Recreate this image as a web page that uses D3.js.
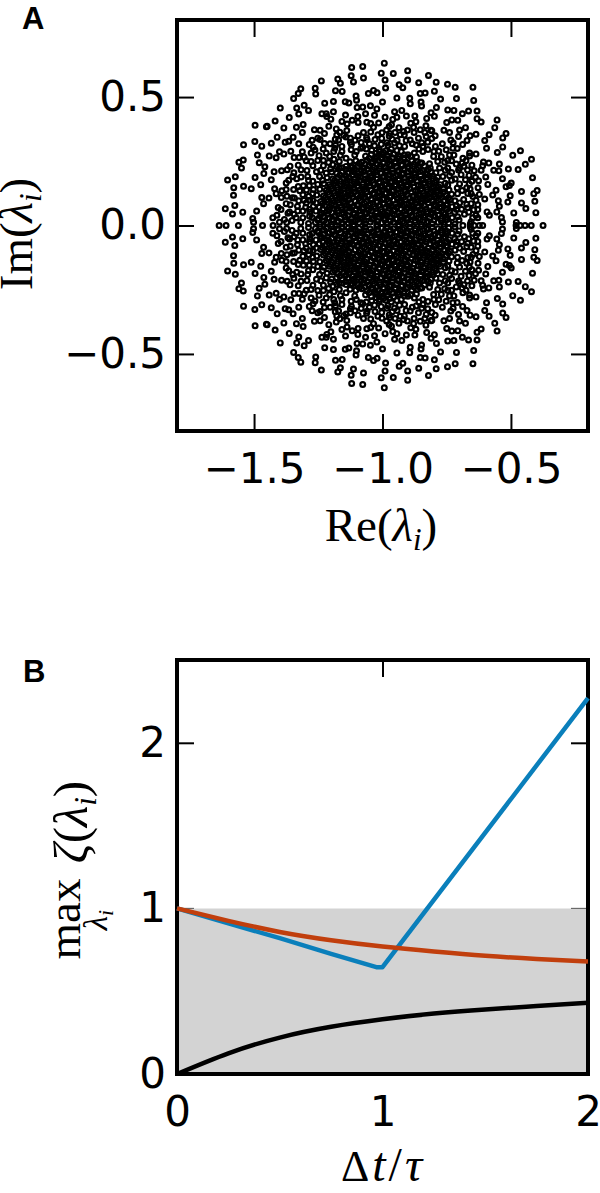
<!DOCTYPE html>
<html>
<head>
<meta charset="utf-8">
<script src="https://cdn.jsdelivr.net/npm/d3@7"></script>
<style>
body { margin: 0; background: #fff; }
text { fill: #000; }
.tick text { font-family: "DejaVu Sans"; font-size: 42px; }
.math { font-family: "Liberation Serif"; }
.panel { font-family: "Liberation Sans"; font-weight: bold; font-size: 31px; }
</style>
</head>
<body>
<script>
// eigenvalues come in conjugate pairs, so only the upper half is listed
const outerEig = [
[-1.120,.615],[-1.077,.619],[-1.122,.583],[-1.074,.574],[-1.113,.559],[-1.174,.570],[-1.164,.554],[-1.238,.563],[-1.262,.534],[-1.260,.512],
[-1.318,.532],[-1.328,.514],[-1.346,.494],[-1.183,.525],[-1.157,.522],[-1.103,.504],[-1.101,.488],[-1.055,.514],[-1.035,.526],[-1.021,.517],
[-1.225,.476],[-1.191,.483],[-1.145,.482],[-1.131,.477],[-1.099,.459],[-1.077,.461],[-1.047,.466],[-1.022,.454],[-1.398,.457],[-1.334,.457],
[-1.305,.468],[-1.288,.448],[-1.326,.434],[-1.236,.435],[-1.219,.435],[-1.217,.424],[-1.201,.414],[-1.191,.443],[-1.144,.430],[-1.096,.424],
[-1.066,.435],[-1.031,.429],[-1.363,.420],[-1.418,.407],[-1.496,.390],[-1.452,.384],[-1.449,.386],[-1.384,.380],[-1.335,.382],[-1.309,.393],
[-1.312,.362],[-1.209,.386],[-1.180,.376],[-1.166,.363],[-1.118,.410],[-1.095,.401],[-1.061,.402],[-1.046,.397],[-1.035,.382],[-1.265,.373],
[-1.243,.371],[-1.226,.358],[-1.139,.370],[-1.142,.345],[-1.125,.340],[-1.095,.349],[-1.074,.362],[-1.046,.364],[-1.018,.353],[-1.410,.344],
[-1.433,.320],[-1.497,.327],[-1.470,.309],[-1.541,.314],[-1.379,.324],[-1.365,.328],[-1.348,.344],[-1.326,.318],[-1.274,.332],[-1.252,.340],
[-1.226,.319],[-1.184,.336],[-1.171,.333],[-1.125,.324],[-1.083,.323],[-1.051,.318],[-1.031,.310],[-1.270,.305],[-1.231,.298],[-1.186,.301],
[-1.158,.308],[-1.122,.295],[-1.084,.301],[-1.401,.287],[-1.384,.278],[-1.357,.289],[-1.312,.287],[-1.487,.274],[-1.441,.271],[-1.414,.264],
[-1.344,.265],[-1.278,.282],[-1.219,.282],[-1.190,.288],[-1.164,.273],[-1.305,.266],[-1.297,.252],[-1.278,.249],[-1.252,.253],[-1.230,.253],
[-1.206,.269],[-1.168,.249],[-1.142,.262],[-1.559,.246],[-1.542,.255],[-1.549,.224],[-1.480,.244],[-1.458,.229],[-1.422,.209],[-1.393,.213],
[-1.371,.217],[-1.360,.231],[-1.317,.217],[-1.271,.233],[-1.257,.209],[-1.230,.233],[-1.193,.236],[-1.168,.224],[-1.142,.230],[-1.603,.177],
[-1.573,.190],[-1.496,.187],[-1.462,.202],[-1.433,.178],[-1.541,.153],[-1.511,.143],[-1.579,.147],[-1.474,.159],[-1.420,.143],[-1.365,.176],
[-1.349,.191],[-1.334,.182],[-1.317,.189],[-1.291,.191],[-1.308,.155],[-1.375,.140],[-1.346,.140],[-1.271,.172],[-1.245,.191],[-1.219,.204],
[-1.269,.140],[-1.580,.118],[-1.470,.109],[-1.442,.107],[-1.463,.085],[-1.414,.124],[-1.394,.109],[-1.372,.114],[-1.343,.107],[-1.310,.120],
[-1.287,.114],[-1.575,.078],[-1.612,.065],[-1.584,.045],[-1.544,.052],[-1.490,.056],[-1.406,.070],[-1.375,.085],[-1.359,.081],[-1.326,.096],
[-1.297,.088],[-1.505,.027],[-1.502,.013],[-1.411,.040],[-1.382,.023],[-1.362,.053],[-1.427,.030],[-1.636,0],[-1.609,0],[-1.561,0],
[-1.467,0],[-1.426,0],[-1.401,.013],[-1.330,.056],[-1.310,.056],[-1.284,.062],[-1.258,.088],[-1.336,.030],[-1.310,.030],[-1.284,.036],
[-.993,.632],[-1.005,.593],[-.958,.592],[-.902,.602],[-.990,.566],[-.902,.566],[-.821,.584],[-.935,.548],[-.921,.536],[-.988,.535],
[-.859,.556],[-.791,.558],[-.747,.550],[-.717,.538],[-.648,.538],[-.853,.514],[-.834,.516],[-.798,.523],[-.944,.496],[-.894,.495],
[-.892,.474],[-.850,.481],[-.848,.465],[-.774,.492],[-.712,.494],[-.645,.487],[-1.000,.481],[-.790,.459],[-.953,.443],[-.925,.448],
[-.746,.450],[-.722,.448],[-.689,.435],[-.665,.446],[-.632,.446],[-.811,.439],[-.798,.425],[-.828,.417],[-.907,.426],[-.874,.426],
[-.990,.421],[-.944,.421],[-.960,.413],[-.870,.404],[-.890,.398],[-.879,.382],[-.831,.388],[-.730,.411],[-.707,.410],[-.750,.401],
[-.632,.416],[-.616,.403],[-.554,.411],[-.974,.385],[-.984,.372],[-.936,.381],[-.903,.372],[-.918,.366],[-.931,.353],[-.877,.362],
[-.811,.371],[-.808,.369],[-.761,.371],[-.739,.362],[-.700,.372],[-.677,.381],[-.563,.381],[-.704,.346],[-.659,.349],[-.636,.355],
[-.671,.331],[-.585,.353],[-.519,.358],[-.532,.341],[-.602,.331],[-.795,.349],[-.830,.346],[-.860,.340],[-.892,.333],[-.962,.336],
[-.734,.333],[-.808,.339],[-.824,.324],[-.843,.308],[-.767,.318],[-.794,.308],[-.869,.313],[-.914,.308],[-.934,.310],[-.953,.321],
[-.726,.301],[-.709,.300],[-.595,.301],[-.532,.306],[-.553,.284],[-.463,.291],[-.493,.273],[-.420,.258],[-.444,.238],[-.739,.274],
[-.722,.274],[-.661,.282],[-.661,.271],[-.636,.278],[-.800,.288],[-.843,.288],[-.876,.282],[-.901,.275],[-.927,.288],[-.687,.262],
[-.746,.253],[-.785,.249],[-.713,.239],[-.690,.243],[-.607,.247],[-.586,.243],[-.545,.239],[-.610,.233],[-.616,.215],[-.643,.213],
[-.669,.216],[-.567,.215],[-.547,.213],[-.510,.220],[-.472,.218],[-.700,.224],[-.746,.224],[-.778,.224],[-.817,.240],[-.847,.243],
[-.416,.186],[-.598,.189],[-.533,.182],[-.499,.165],[-.506,.156],[-.519,.151],[-.590,.160],[-.652,.172],[-.626,.174],[-.662,.162],
[-.659,.142],[-.746,.158],[-.765,.191],[-.739,.194],[-.717,.181],[-.694,.198],[-.700,.162],[-.709,.146],[-.558,.137],[-.623,.121],
[-.602,.103],[-.571,.119],[-.668,.125],[-.655,.124],[-.459,.132],[-.398,.136],[-.411,.124],[-.503,.116],[-.407,.094],[-.549,.096],
[-.512,.091],[-.459,.088],[-.442,.066],[-.545,.075],[-.555,.053],[-.636,.098],[-.629,.081],[-.684,.101],[-.700,.088],[-.489,.049],
[-.403,.050],[-.593,.053],[-.584,.040],[-.629,.062],[-.668,.069],[-.664,.052],[-.636,.040],[-.649,.030],[-.629,.030],[-.687,0],
[-.658,.006],[-.643,0],[-.623,0],[-.610,0],[-.537,.031],[-.533,.014],[-.479,.012],[-.464,0],[-.445,0],[-.421,0],
[-.375,0],[-.480,0]
];

// the ring around the solid middle, too crowded to read one by one, so estimated
const midEig = [
[-1.318,.012],[-1.344,.044],[-1.299,.071],[-1.331,.075],[-1.283,.098],[-1.352,.019],[-1.306,.098],[-1.272,.124],[-1.296,.138],[-1.252,.160],
[-1.285,.155],[-1.322,.135],[-1.240,.215],[-1.210,.245],[-1.189,.258],[-1.183,.312],[-1.202,.221],[-1.158,.288],[-1.121,.315],[-1.102,.288],
[-1.151,.351],[-1.107,.332],[-1.178,.352],[-1.204,.318],[-1.247,.272],[-1.263,.294],[-1.294,.214],[-1.233,.176],[-1.328,.152],[-1.288,.175],
[-1.062,.342],[-1.029,.335],[-1.002,.361],[-.972,.358],[-.943,.331],[-.908,.331],[-.884,.318],[-.858,.298],[-.823,.296],[-.801,.269],
[-.771,.268],[-.758,.246],[-.731,.252],[-1.077,.305],[-1.012,.288],[-.979,.312],[-.951,.362],[-1.003,.339],[-.915,.352],[-.847,.322],
[-.781,.289],[-.752,.295],[-.704,.216],[-.683,.231],[-.731,.206],[-.756,.215],[-.663,.195],[-.677,.178],[-.708,.124],[-.690,.136],
[-.731,.176],[-.672,.147],[-.648,.113],[-.655,.085],[-.672,.083],[-.702,.021],[-.681,.044],[-.711,.062],[-.655,.015],[-.692,.063],
[-.645,.061],[-.628,.147],[-.638,.188],[-.652,.235],[-.675,.252],[-.725,.322],[-.688,.315],[-.835,.362],[-.853,.373],[-.965,.392],
[-1.015,.399],[-1.138,.395],[-1.158,.405],[-1.243,.335],[-1.285,.315],[-1.325,.265],[-1.328,.235],[-1.345,.205],[-1.375,.165],[-1.392,.135],
[-1.368,.048],[-1.395,.062],[-1.373,.012],[-1.351,.108]
];

// the solid middle of the cloud, individual points are only estimates here
const coreEig = [
[-1.288,.008],[-1.261,.012],[-1.243,.005],[-1.219,.011],[-1.198,.004],[-1.176,.013],[-1.158,.006],[-1.133,.010],[-1.112,.003],[-1.091,.012],[-1.068,.007],[-1.047,.014],[-1.022,.004],[-1.004,.011],[-.981,.006],[-.958,.013],[-.937,.003],[-.916,.010],[-.893,.006],[-.872,.012],[-.849,.004],[-.828,.011],[-.806,.007],[-.784,.013],[-.761,.005],[-.742,.010],[-.718,.006],
[-1.274,.031],[-1.250,.027],[-1.231,.034],[-1.207,.029],[-1.188,.035],[-1.164,.028],[-1.145,.033],[-1.122,.026],[-1.101,.034],[-1.079,.029],[-1.058,.035],[-1.035,.027],[-1.014,.032],[-.993,.028],[-.969,.035],[-.948,.026],[-.926,.033],[-.905,.029],[-.883,.034],[-.861,.027],[-.839,.032],[-.817,.029],[-.796,.035],[-.773,.027],[-.751,.033],[-.729,.030],[-.707,.034],
[-1.283,.052],[-1.259,.056],[-1.238,.049],[-1.216,.055],[-1.197,.050],[-1.173,.057],[-1.152,.051],[-1.130,.055],[-1.109,.048],[-1.089,.056],[-1.066,.051],[-1.044,.057],[-1.024,.049],[-1.002,.054],[-.979,.050],[-.957,.057],[-.936,.048],[-.914,.055],[-.894,.051],[-.870,.056],[-.850,.049],[-.827,.054],[-.806,.051],[-.785,.057],[-.762,.050],[-.741,.055],[-.719,.052],
[-1.269,.075],[-1.246,.071],[-1.224,.078],[-1.205,.072],[-1.182,.077],[-1.160,.071],[-1.140,.079],[-1.118,.073],[-1.097,.077],[-1.075,.070],[-1.053,.078],[-1.033,.073],[-1.011,.079],[-.988,.071],[-.967,.076],[-.945,.072],[-.923,.079],[-.902,.070],[-.881,.077],[-.859,.073],[-.837,.078],[-.816,.071],[-.794,.076],[-.771,.072],[-.752,.079],[-.729,.073],[-.712,.077],
[-1.271,.097],[-1.240,.093],[-1.217,.100],[-1.194,.095],[-1.173,.099],[-1.150,.092],[-1.129,.101],[-1.107,.095],[-1.086,.098],[-1.063,.092],[-1.042,.100],[-1.021,.094],[-.999,.101],[-.977,.093],[-.956,.098],[-.934,.094],[-.912,.100],[-.891,.092],[-.869,.099],[-.848,.095],[-.826,.100],[-.804,.093],[-.783,.098],[-.761,.094],[-.737,.100],[-.718,.096],
[-1.256,.119],[-1.230,.115],[-1.208,.122],[-1.185,.117],[-1.164,.121],[-1.141,.114],[-1.120,.122],[-1.098,.116],[-1.077,.120],[-1.055,.114],[-1.033,.122],[-1.012,.116],[-.990,.123],[-.968,.115],[-.946,.120],[-.925,.116],[-.903,.122],[-.882,.114],[-.860,.121],[-.838,.117],[-.817,.122],[-.795,.115],[-.773,.120],[-.752,.116],[-.731,.122],
[-1.244,.141],[-1.219,.137],[-1.197,.144],[-1.175,.139],[-1.153,.143],[-1.132,.136],[-1.110,.144],[-1.088,.138],[-1.067,.142],[-1.044,.136],[-1.023,.144],[-1.002,.138],[-.980,.145],[-.958,.137],[-.936,.142],[-.915,.138],[-.893,.144],[-.872,.136],[-.850,.143],[-.828,.139],[-.807,.144],[-.785,.137],[-.763,.142],[-.741,.138],
[-1.228,.163],[-1.207,.159],[-1.186,.166],[-1.164,.161],[-1.142,.165],[-1.121,.158],[-1.099,.166],[-1.077,.160],[-1.056,.164],[-1.034,.158],[-1.012,.166],[-.991,.160],[-.969,.167],[-.948,.159],[-.926,.164],[-.904,.160],[-.882,.166],[-.861,.158],[-.839,.165],[-.818,.161],[-.796,.166],[-.775,.159],[-.756,.164],
[-1.216,.186],[-1.194,.181],[-1.173,.188],[-1.151,.183],[-1.130,.187],[-1.108,.180],[-1.087,.188],[-1.065,.182],[-1.043,.186],[-1.022,.180],[-1.000,.188],[-.978,.182],[-.957,.189],[-.935,.181],[-.914,.186],[-.892,.182],[-.870,.188],[-.849,.180],[-.827,.187],[-.806,.183],[-.785,.188],
[-1.198,.208],[-1.178,.203],[-1.157,.210],[-1.135,.205],[-1.114,.209],[-1.092,.202],[-1.071,.210],[-1.049,.204],[-1.027,.208],[-1.006,.202],[-.984,.210],[-.962,.204],[-.941,.211],[-.919,.203],[-.898,.208],[-.876,.204],[-.854,.210],[-.833,.202],[-.811,.209],[-.792,.205],
[-1.178,.229],[-1.158,.225],[-1.121,.232],[-1.118,.226],[-1.097,.231],[-1.075,.224],[-1.054,.232],[-1.032,.226],[-1.010,.230],[-.989,.224],[-.967,.232],[-.945,.226],[-.924,.233],[-.902,.225],[-.881,.230],[-.859,.226],[-.837,.232],[-.814,.224],
[-1.126,.248],[-1.104,.252],[-1.081,.246],[-1.060,.254],[-1.038,.248],[-1.016,.253],[-.995,.246],[-.973,.254],[-.951,.248],[-.930,.253],[-.908,.246],[-.886,.252],[-.864,.248],
[-1.108,.274],[-1.066,.270],[-1.044,.276],[-1.022,.269],[-1.001,.275],[-.979,.271],[-.957,.277],[-.936,.269],[-.914,.274],[-.891,.270],[-.868,.267],
[-1.063,.298],[-1.042,.293],[-1.012,.296],[-.987,.291],[-.966,.298],[-.944,.292],[-1.005,.316],[-.983,.322],[-1.060,.334],[-.974,.348]
];

// second pass over the middle, it is nearly black there in the reference
const coreFill = [
[-1.252,.021],[-1.228,.018],[-1.195,.024],[-1.171,.017],[-1.143,.022],[-1.121,.015],[-1.097,.023],[-1.072,.019],[-1.041,.024],[-1.018,.016],[-.991,.021],[-.969,.018],[-.944,.025],[-.921,.017],[-.902,.022],[-.874,.019],[-.853,.024],[-.822,.016],[-.799,.021],[-.771,.018],[-.748,.023],
[-1.241,.041],[-1.212,.044],[-1.183,.039],[-1.158,.045],[-1.134,.038],[-1.112,.043],[-1.086,.040],[-1.063,.046],[-1.031,.038],[-1.009,.043],[-.983,.040],[-.961,.046],[-.931,.039],[-.909,.044],[-.887,.040],[-.858,.045],[-.834,.039],[-.811,.043],[-.783,.040],[-.756,.045],
[-1.232,.064],[-1.207,.060],[-1.178,.066],[-1.156,.062],[-1.127,.067],[-1.103,.061],[-1.079,.064],[-1.054,.060],[-1.028,.066],[-1.006,.062],[-.975,.067],[-.952,.061],[-.928,.065],[-.906,.062],[-.877,.066],[-.853,.061],[-.829,.064],[-.802,.062],[-.777,.067],[-.749,.063],
[-1.233,.086],[-1.199,.083],[-1.172,.088],[-1.147,.084],[-1.123,.089],[-1.096,.083],[-1.071,.087],[-1.048,.085],[-1.022,.089],[-.997,.083],[-.972,.087],[-.949,.084],[-.925,.089],[-.898,.083],[-.873,.087],[-.849,.085],[-.822,.089],[-.799,.083],[-.773,.086],[-.748,.084],
[-1.223,.108],[-1.196,.105],[-1.168,.110],[-1.145,.104],[-1.117,.109],[-1.092,.106],[-1.069,.111],[-1.044,.104],[-1.017,.108],[-.994,.105],[-.971,.110],[-.942,.104],[-.919,.109],[-.894,.106],[-.867,.110],[-.843,.105],[-.819,.109],[-.791,.106],[-.768,.110],[-.744,.107],
[-1.212,.130],[-1.187,.127],[-1.162,.132],[-1.135,.126],[-1.111,.131],[-1.084,.128],[-1.062,.133],[-1.037,.126],[-1.011,.130],[-.986,.127],[-.962,.132],[-.939,.126],[-.911,.131],[-.888,.128],[-.863,.132],[-.839,.127],[-.812,.131],[-.789,.128],[-.764,.130],
[-1.201,.152],[-1.175,.149],[-1.148,.154],[-1.126,.148],[-1.098,.153],[-1.076,.150],[-1.049,.155],[-1.027,.148],[-1.001,.152],[-.975,.149],[-.952,.154],[-.927,.148],[-.903,.153],[-.878,.150],[-.851,.154],[-.828,.149],[-.802,.153],[-.781,.150],
[-1.187,.174],[-1.162,.171],[-1.137,.176],[-1.112,.170],[-1.089,.175],[-1.061,.172],[-1.038,.177],[-1.013,.170],[-.987,.174],[-.964,.171],[-.938,.176],[-.916,.170],[-.889,.175],[-.864,.172],[-.842,.176],[-.817,.171],[-.791,.175],
[-1.166,.197],[-1.142,.193],[-1.118,.198],[-1.095,.192],[-1.068,.197],[-1.044,.194],[-1.021,.199],[-.995,.192],[-.971,.196],[-.948,.193],[-.923,.198],[-.899,.192],[-.874,.197],[-.852,.194],[-.826,.198],[-.803,.193],
[-1.142,.218],[-1.109,.220],[-1.083,.215],[-1.059,.219],[-1.037,.216],[-1.011,.221],[-.986,.214],[-.962,.219],[-.938,.215],[-.914,.220],[-.889,.216],[-.866,.219],[-.845,.214],[-.822,.218],
[-1.091,.241],[-1.068,.238],[-1.044,.243],[-1.021,.237],[-.997,.242],[-.972,.238],[-.949,.243],[-.926,.237],[-.902,.241],[-.877,.239],[-.853,.243],
[-1.052,.262],[-1.028,.260],[-1.006,.263],[-.983,.259],[-.961,.264],[-.938,.261],[-.917,.263],
[-1.024,.281],[-.995,.283],[-.972,.284]
];

const reTicks = [-1.5, -1.0, -0.5];
const imTicks = [-0.5, 0, 0.5];

// panel B, read at these dt/tau positions
const dtCurve = [0, 0.25, 0.5, 0.75, 1, 1.25, 1.5, 1.75, 2];
const blackZeta = [0, 0.125, 0.22, 0.285, 0.33, 0.365, 0.39, 0.41, 0.43];
const orangeZeta = [1, 0.925, 0.858, 0.808, 0.77, 0.74, 0.714, 0.695, 0.68];
const dtBlue = [0, 0.25, 0.5, 0.75, 0.97, 1.0, 2];
const blueZeta = [1, 0.91, 0.82, 0.725, 0.645, 0.645, 2.27];
const shadeDt = [0, 2];
const shadeTop = [1, 1];
const bTicksX = [0, 1, 2];
const bTicksY = [0, 1, 2];

const width = 600, height = 1193;
const left = 177, right = 588;

const svg = d3.select('body').append('svg')
    .attr('width', width)
    .attr('height', height)
    .style('display', 'block');

const minus = d => d3.format('.1f')(d).replace('-', '\u2212');

function ticks(g, axis) {
    g.call(axis);
    g.select('.domain').remove();
    g.selectAll('.tick line').attr('stroke', '#000').attr('stroke-width', 2);
}

function frame(top, bottom) {
    svg.append('rect')
        .attr('x', left).attr('y', top)
        .attr('width', right - left).attr('height', bottom - top)
        .attr('fill', 'none')
        .attr('stroke', '#000')
        .attr('stroke-width', 4);
}

// ---- panel A
const x1 = d3.scaleLinear().domain([-1.8, -0.2]).range([left, right]);
const y1 = d3.scaleLinear().domain([-0.8, 0.8]).range([431, 20]);

svg.append('g').attr('transform', 'translate(0,431)')
    .call(ticks, d3.axisBottom(x1).tickValues(reTicks).tickSize(-17).tickPadding(22).tickFormat(minus));
svg.append('g').attr('transform', 'translate(0,20)')
    .call(ticks, d3.axisTop(x1).tickValues(reTicks).tickSize(-17).tickFormat(''));
svg.append('g').attr('transform', `translate(${left},0)`)
    .call(ticks, d3.axisLeft(y1).tickValues(imTicks).tickSize(-17).tickPadding(11).tickFormat(minus));
svg.append('g').attr('transform', `translate(${right},0)`)
    .call(ticks, d3.axisRight(y1).tickValues(imTicks).tickSize(-17).tickFormat(''));

const upper = outerEig.concat(midEig, coreEig, coreFill);
const allEig = upper.concat(upper.filter(d => d[1] !== 0).map(d => [d[0], -d[1]]));

svg.append('g').selectAll('circle')
    .data(allEig)
    .join('circle')
    .attr('cx', d => x1(d[0]))
    .attr('cy', d => y1(d[1]))
    .attr('r', 2.4)
    .attr('fill', 'none')
    .attr('stroke', '#000')
    .attr('stroke-width', 2.2);

frame(20, 431);

// ---- panel B
const x2 = d3.scaleLinear().domain([0, 2]).range([left, right]);
const y2 = d3.scaleLinear().domain([0, 2.5]).range([1074, 660]);

svg.append('g').attr('transform', 'translate(0,1074)')
    .call(ticks, d3.axisBottom(x2).tickValues(bTicksX).tickSize(-17).tickPadding(22).tickFormat(d3.format('d')));
svg.append('g').attr('transform', 'translate(0,660)')
    .call(ticks, d3.axisTop(x2).tickValues(bTicksX).tickSize(-17).tickFormat(''));
svg.append('g').attr('transform', `translate(${left},0)`)
    .call(ticks, d3.axisLeft(y2).tickValues(bTicksY).tickSize(-17).tickPadding(11).tickFormat(d3.format('d')));
svg.append('g').attr('transform', `translate(${right},0)`)
    .call(ticks, d3.axisRight(y2).tickValues(bTicksY).tickSize(-17).tickFormat(''));

svg.append('clipPath').attr('id', 'plotB').append('rect')
    .attr('x', left - 2).attr('y', 658).attr('width', right - left + 4).attr('height', 418);

svg.append('path')
    .datum(shadeDt)
    .attr('d', d3.area().x(d => x2(d)).y0(y2(0)).y1((d, i) => y2(shadeTop[i])))
    .attr('fill', '#d3d3d3');

frame(660, 1074);

const smooth = d3.line().x(d => x2(d[0])).y(d => y2(d[1])).curve(d3.curveNatural);
const straight = d3.line().x(d => x2(d[0])).y(d => y2(d[1]));

const plotB = svg.append('g').attr('clip-path', 'url(#plotB)');
const series = [
    { pts: d3.zip(dtCurve, blackZeta), gen: smooth, col: '#000' },
    { pts: d3.zip(dtBlue, blueZeta), gen: straight, col: '#0a7fbb' },
    { pts: d3.zip(dtCurve, orangeZeta), gen: smooth, col: '#c13f0d' }
];
series.forEach(s => {
    plotB.append('path')
        .attr('d', s.gen(s.pts))
        .attr('fill', 'none')
        .attr('stroke', s.col)
        .attr('stroke-width', 4.5)
        .attr('stroke-linejoin', 'round');
});

// ---- labels
function mathLabel(parent, parts) {
    const t = parent.append('text').attr('class', 'math');
    parts.forEach(p => {
        t.append('tspan')
            .text(p.s)
            .style('font-size', (p.size || 47) + 'px')
            .style('font-style', p.it ? 'italic' : 'normal')
            .attr('dy', p.dy || 0);
    });
    return t;
}

mathLabel(svg, [{ s: 'Re(' }, { s: '\u03bb', it: true }, { s: 'i', it: true, size: 31, dy: 9 }, { s: ')', dy: -9 }])
    .attr('x', 381).attr('y', 541).attr('text-anchor', 'middle');

mathLabel(svg, [{ s: 'Im(' }, { s: '\u03bb', it: true }, { s: 'i', it: true, size: 31, dy: 9 }, { s: ')', dy: -9 }])
    .attr('text-anchor', 'middle')
    .attr('transform', 'translate(32,234) rotate(-90)');

mathLabel(svg, [{ s: '\u0394', size: 44 }, { s: 't', it: true, size: 48 }, { s: '/', size: 48 }, { s: '\u03c4', it: true, size: 48 }])
    .attr('x', 383).attr('y', 1181).attr('text-anchor', 'middle')
    .style('letter-spacing', '3px');

mathLabel(svg, [{ s: 'max' }])
    .attr('text-anchor', 'middle')
    .attr('transform', 'translate(80,919) rotate(-90)');
mathLabel(svg, [{ s: '\u03bb', it: true, size: 33 }, { s: 'i', it: true, size: 22, dy: 6 }])
    .attr('text-anchor', 'middle')
    .attr('transform', 'translate(107,920) rotate(-90)');
mathLabel(svg, [{ s: '\u03b6', it: true, size: 49 }, { s: '(', size: 49 }, { s: '\u03bb', it: true, size: 49 }, { s: 'i', it: true, size: 31, dy: 9 }, { s: ')', size: 49, dy: -9 }])
    .attr('text-anchor', 'middle')
    .attr('transform', 'translate(87,822) rotate(-90)');

svg.append('text').attr('class', 'panel').attr('x', 22).attr('y', 29).text('A');
svg.append('text').attr('class', 'panel').attr('x', 23).attr('y', 682).text('B');
</script>
</body>
</html>
